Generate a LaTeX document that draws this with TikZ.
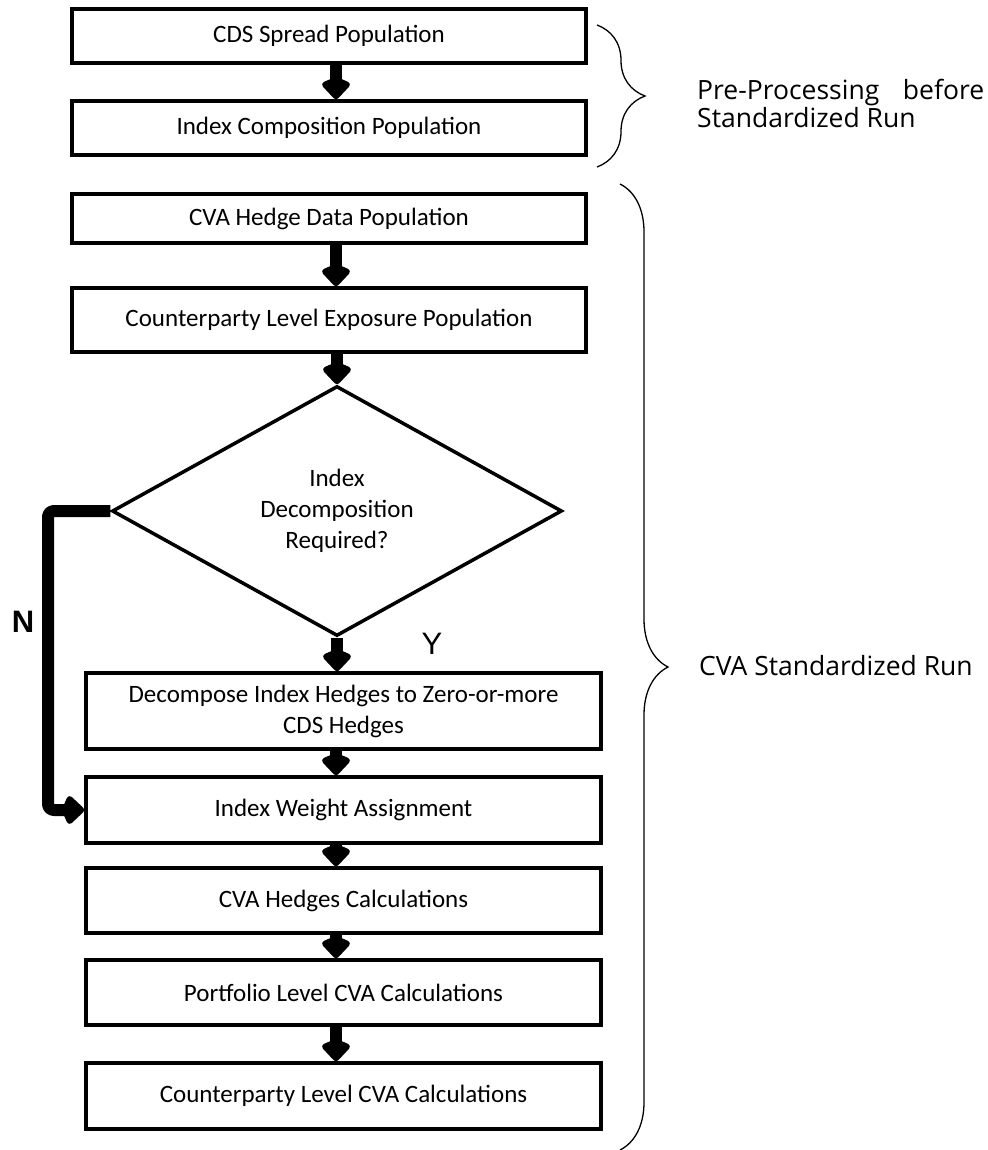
\documentclass[tikz,border=0pt]{standalone}
\usepackage{fontspec}
\setmainfont{Carlito}
\newfontfamily\sidefont{Open Sans}
\newfontfamily\labelfont{Liberation Sans}
\usetikzlibrary{arrows.meta,shapes.geometric,decorations.pathreplacing}

\begin{document}
\begin{tikzpicture}[x=1pt,y=-1pt,
  boxtext/.style={font=\fontsize{25}{31}\selectfont},
  stepbox/.style={draw=black, line width=3.5pt, fill=white, inner sep=0pt,
    align=center, boxtext},
  topbox/.style={stepbox, minimum width=514pt},
  lowbox/.style={stepbox, minimum width=515pt},
  decision/.style={draw=black, diamond, line width=3.5pt, fill=white,
    minimum width=450pt, minimum height=250pt, inner sep=0pt, align=center, boxtext},
  flow/.style={line width=12pt,
    -{Kite[round, length=24pt, width=32pt, inset=7pt, line width=6pt]}},
  flowpath/.style={flow, line join=round, rounded corners=6pt},
  curly/.style={decorate, decoration={brace, amplitude=48pt}, line width=1.3pt},
  sidetext/.style={inner sep=0pt, font=\sidefont\fontsize{26.5}{28}\selectfont},
  yn/.style={inner sep=0pt, font=\labelfont\fontsize{31}{31}\selectfont}
]
\useasboundingbox (0,0) rectangle (987,1150);

% pre-processing steps
\node[topbox, minimum height=54pt] (b1) at (329,36)    {CDS Spread Population};
\node[topbox, minimum height=54pt] (b2) at (329,128)   {Index Composition Population};
% standardized run
\node[topbox, minimum height=49pt] (b3) at (329,218.5) {CVA Hedge Data Population};
\node[topbox, minimum height=64pt] (b4) at (329,320)   {Counterparty Level Exposure Population};
\node[decision] (dia) at (337,511) {Index\\Decomposition\\Required?};
\node[lowbox, minimum height=76pt] (b5) at (343.5,711)  {Decompose Index Hedges to Zero-or-more\\CDS Hedges};
\node[lowbox, minimum height=66pt] (b6) at (343.5,810)  {Index Weight Assignment};
\node[lowbox, minimum height=65pt] (b7) at (343.5,900.5){CVA Hedges Calculations};
\node[lowbox, minimum height=65pt] (b8) at (343.5,992.5){Portfolio Level CVA Calculations};
\node[lowbox, minimum height=66pt] (b9) at (343.5,1096) {Counterparty Level CVA Calculations};

% connectors
\coordinate (ax) at (336,0);
\coordinate (nx) at (48,511);
\draw[flow] (b1.south -| ax) -- (b2.north -| ax);
\draw[flow] (b3.south -| ax) -- (b4.north -| ax);
\draw[flow] (b4.south -| dia.north) -- (dia.north);
\draw[flow] (dia.south) -- (dia.south |- b5.north);
\draw[flowpath] (dia.west) -- (nx) |- (b6.west);
\draw[flow] (b5.south -| ax) -- (b6.north -| ax);
\draw[flow] (b6.south -| ax) -- (b7.north -| ax);
\draw[flow] (b7.south -| ax) -- (b8.north -| ax);
\draw[flow] (b8.south -| ax) -- (b9.north -| ax);

% branch labels
\node[yn, font=\labelfont\bfseries\fontsize{31}{31}\selectfont] (nlab) at (23,622) {N};
\node[yn] (ylab) at (432,644) {Y};

% phase braces and their captions
\coordinate (pretop) at (597,25);
\coordinate (prebot) at (597,167);
\coordinate (runtop) at (620,184);
\coordinate (runbot) at (620,1150);
\draw[curly] (pretop) -- (prebot);
\draw[curly] (runtop) -- (runbot);
\node[sidetext, anchor=base west, text width=287pt, align=justify] (prelab) at (697,100)
  {Pre-Processing before\linebreak Standardized Run};
\node[sidetext, anchor=base west] (runlab) at (699,675) {CVA Standardized Run};
\end{tikzpicture}
\end{document}
